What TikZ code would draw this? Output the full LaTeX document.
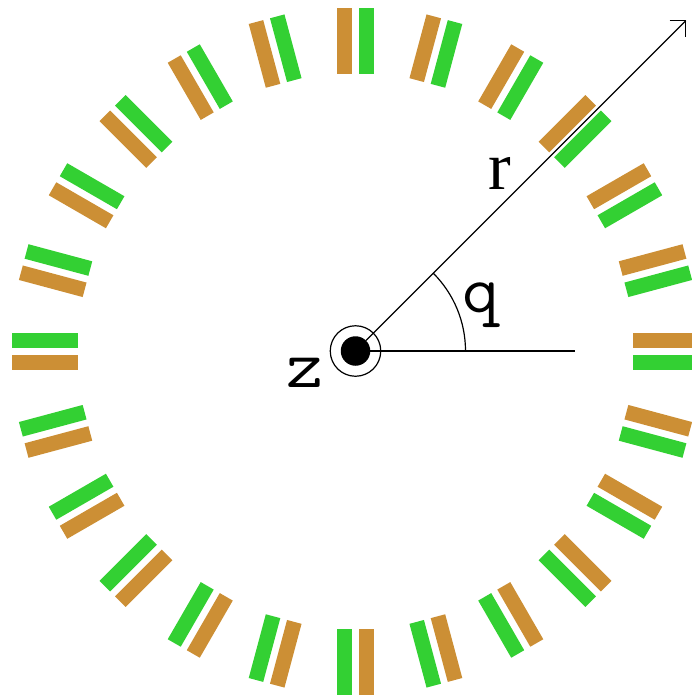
\documentclass[tikz,border=0pt]{standalone}
\usepackage{fontspec}
\setmainfont{Liberation Serif}
\usetikzlibrary{calc}
\definecolor{barbrown}{RGB}{204,143,53}
\definecolor{bargreen}{RGB}{51,208,51}
\tikzset{
  x=1pt,y=-1pt,
  lbl/.style={inner sep=0pt,font=\fontsize{68}{68}\selectfont},
  monolbl/.style={inner sep=0pt,xscale=1.06,font=\fontsize{68}{68}\selectfont\ttfamily},
  thinline/.style={draw=black,line width=1.2pt},
  mainline/.style={draw=black,line width=1.6pt},
}
\begin{document}
\begin{tikzpicture}
\useasboundingbox (0,0) rectangle (692,696);
\clip (0,0) rectangle (692,696);
\coordinate (c) at (355.5,351);
% 24 pairs of bars (screen y points down, so angles run clockwise from +x)
\foreach \a in {0,15,...,345}{
  \begin{scope}[shift={(c)},rotate=\a]
    \fill[barbrown] (277.5,-18.5) rectangle (343.5,-3.5);
    \fill[bargreen] (277.5,3.5) rectangle (343.5,18.5);
  \end{scope}
}
\coordinate (tip) at (685.7,20.7);
\coordinate (tipa) at (669.7,20.7);
\coordinate (tipb) at (685.7,36.7);
\coordinate (arcstart) at (465.5,351);
\coordinate (lineend) at (575,351);
\node[circle,draw=black,line width=1.2pt,minimum size=50.5pt,inner sep=0pt] (ring) at (c) {};
\node[circle,fill=black,minimum size=29.5pt,inner sep=0pt] (dot) at (c) {};
\draw[thinline] (dot) -- (tip);
\draw[thinline] (tipa) -- (tip) -- (tipb);
\draw[thinline] (dot) -- (arcstart);
\draw[mainline] (arcstart) -- (lineend);
\draw[thinline] (arcstart) arc[start angle=0,end angle=-45,radius=110];
\node[lbl] (r) at (500,173) {r};
\node[monolbl] (q) at (481,305.5) {q};
\node[monolbl] (z) at (305,372.5) {z};
\end{tikzpicture}
\end{document}
